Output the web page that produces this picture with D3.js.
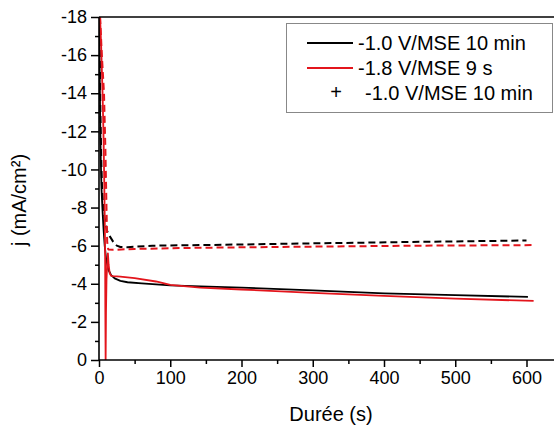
<!DOCTYPE html>
<html>
<head>
<meta charset="utf-8">
<script src="https://cdn.jsdelivr.net/npm/d3@7"></script>
<style>
body{margin:0;background:#fff;}
svg{display:block;}
text{font-family:"Liberation Sans",Arial,sans-serif;fill:#000;}
</style>
</head>
<body>
<svg id="c" width="554" height="428"></svg>
<script>
// ---- data ----
const xTicks = [0,100,200,300,400,500,600];
const yTicks = [0,-2,-4,-6,-8,-10,-12,-14,-16,-18];
const legendLabels = ["-1.0 V/MSE 10 min","-1.8 V/MSE 9 s","-1.0 V/MSE 10 min"];

const blackSolidT = [0.3,1,1.8,2.5,3.5,5,6.5,8,10,13,17,22,30,40,60,100,142,200,300,400,500,602];
const blackSolidJ = [-18,-15,-12.2,-10.5,-9,-7.8,-6.8,-6.0,-5.3,-4.75,-4.45,-4.28,-4.15,-4.08,-4.02,-3.92,-3.86,-3.8,-3.65,-3.5,-3.4,-3.31];

const redSolidT = [1.5,3,5,6.5,7.5,8.2,8.6,8.9,9.3,9.8,10.5,11.5,12.5,13.5,15,17,20,30,50,80,100,142,200,300,400,500,610];
const redSolidJ = [-18,-16.5,-14,-11.5,-9,-7,-5.5,-2.5,0,-2.5,-4.2,-5.0,-5.6,-5.0,-4.55,-4.42,-4.4,-4.37,-4.3,-4.12,-3.94,-3.8,-3.7,-3.52,-3.36,-3.22,-3.1];

const blackDashT = [0.5,2,3.2,4.2,6,8.5,11,15,20,25,30,40,75,142,300,450,600];
const blackDashJ = [-18,-13,-10.5,-9.1,-8.0,-7.3,-6.8,-6.5,-6.2,-6.0,-5.93,-5.92,-6.0,-6.03,-6.12,-6.2,-6.27];

const redDashT = [1.5,4,7,9,10.5,11.5,13,20,50,142,300,450,610];
const redDashJ = [-18,-16,-14,-11,-8,-6.2,-5.8,-5.78,-5.83,-5.89,-5.95,-6.0,-6.03];

// ---- chart ----
const svg = d3.select("#c");
const L = 99, R = 555, T = 17, B = 360;
const x = d3.scaleLinear().domain([0,640]).range([L,R]);
const y = d3.scaleLinear().domain([0,-18]).range([B,T]);
const RED = "#e3151c";

svg.append("defs").append("clipPath").attr("id","clip")
  .append("rect").attr("x",L).attr("y",T).attr("width",R-L).attr("height",B-T);

const series = [
  {t:blackDashT, j:blackDashJ, color:"#000", dash:"7,4", w:2},
  {t:redDashT, j:redDashJ, color:RED, dash:"7,4", w:2},
  {t:blackSolidT, j:blackSolidJ, color:"#000", dash:null, w:1.8},
  {t:redSolidT, j:redSolidJ, color:RED, dash:null, w:1.8}
];
const line = d3.line().x(d=>x(d[0])).y(d=>y(d[1]));
const g = svg.append("g").attr("clip-path","url(#clip)");
series.forEach(s=>{
  g.append("path").datum(s.t.map((t,i)=>[t,s.j[i]]))
    .attr("d",line).attr("fill","none").attr("stroke",s.color)
    .attr("stroke-width",s.w).attr("stroke-dasharray",s.dash)
    .attr("stroke-linejoin","round");
});

// axes
const fs = 18;
const xMinor = d3.range(50,640,100);
const yMinor = d3.range(-1,-18,-2);
const xAx = svg.append("g").attr("transform",`translate(0,${B})`)
  .call(d3.axisBottom(x).tickValues(xTicks).tickSize(7).tickPadding(4).tickFormat(d3.format("d")));
const xAxMin = svg.append("g").attr("transform",`translate(0,${B})`)
  .call(d3.axisBottom(x).tickValues(xMinor).tickSize(4).tickFormat(""));
const yAx = svg.append("g").attr("transform",`translate(${L},0)`)
  .call(d3.axisLeft(y).tickValues(yTicks).tickSize(8).tickPadding(4).tickFormat(d=>d===0?"0":String(d)));
const yAxMin = svg.append("g").attr("transform",`translate(${L},0)`)
  .call(d3.axisLeft(y).tickValues(yMinor).tickSize(4).tickFormat(""));
[xAx,xAxMin,yAx,yAxMin].forEach(a=>{
  a.selectAll("path,line").attr("stroke","#000").attr("stroke-width",1.5);
  a.selectAll("text").attr("font-size",fs).attr("font-family",'"Liberation Sans",Arial,sans-serif').attr("fill","#000");
  a.select(".domain").attr("stroke-width",1.6);
});
xAxMin.select(".domain").remove(); yAxMin.select(".domain").remove();
xAx.select(".domain").attr("d",`M${L},0H${R}`);
yAx.select(".domain").attr("d",`M0,${B}V${T}`);
// top frame
svg.append("line").attr("x1",L).attr("x2",R).attr("y1",T).attr("y2",T)
  .attr("stroke","#000").attr("stroke-width",1.6);

// titles
svg.append("text").attr("x",331).attr("y",421).attr("text-anchor","middle")
  .attr("font-size",20).text("Durée (s)");
svg.append("text").attr("transform","translate(26,200) rotate(-90)")
  .attr("text-anchor","middle").attr("font-size",20).text("j (mA/cm²)");

// legend
const lfs = 20;
const lg = svg.append("g");
lg.append("rect").attr("x",286.5).attr("y",23.5).attr("width",266).attr("height",89)
  .attr("fill","#fff").attr("stroke","#888").attr("stroke-width",1);
lg.append("line").attr("x1",307).attr("x2",353).attr("y1",43).attr("y2",43).attr("stroke","#000").attr("stroke-width",1.8);
lg.append("line").attr("x1",307).attr("x2",353).attr("y1",68).attr("y2",68).attr("stroke",RED).attr("stroke-width",1.8);
lg.append("text").attr("x",358).attr("y",50).attr("font-size",lfs).text(legendLabels[0]);
lg.append("text").attr("x",358).attr("y",75).attr("font-size",lfs).text(legendLabels[1]);
lg.append("text").attr("x",336).attr("y",99).attr("text-anchor","middle").attr("font-size",lfs).text("+");
lg.append("text").attr("x",365).attr("y",100).attr("font-size",lfs).text(legendLabels[2]);
</script>
</body>
</html>
